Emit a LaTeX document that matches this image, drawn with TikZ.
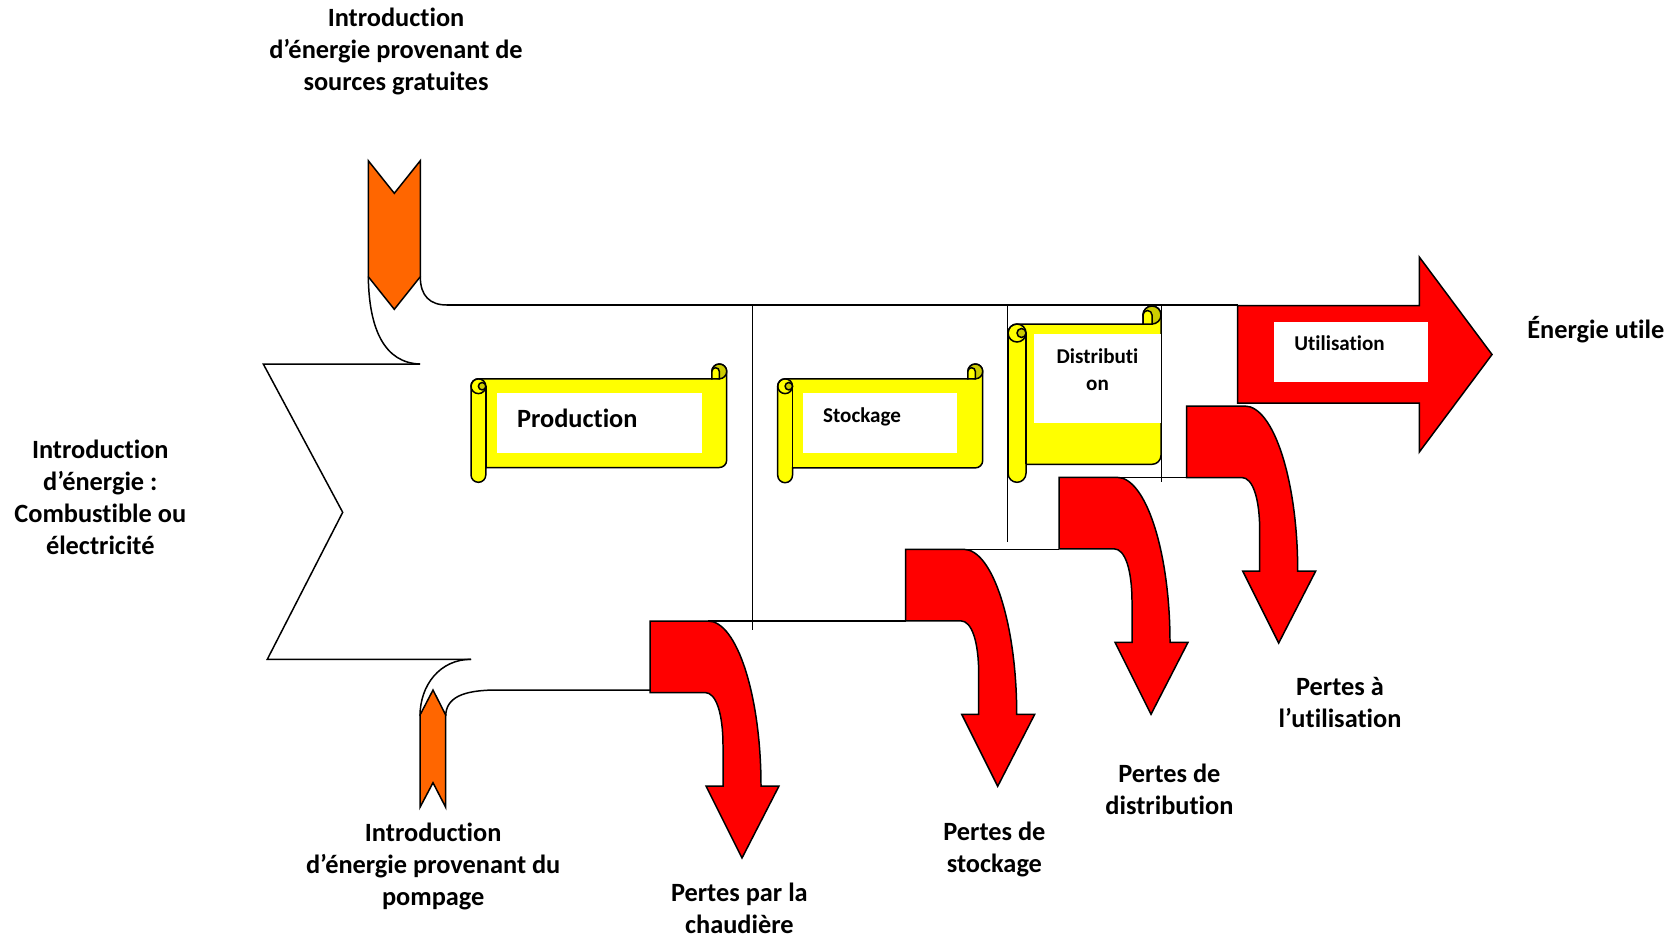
\documentclass[tikz,border=0pt]{standalone}
\usepackage{fontspec}
\setmainfont{Carlito}[Ligatures=NoCommon]
\definecolor{flame}{HTML}{FF6600}
\definecolor{lossred}{HTML}{FF0000}
\definecolor{scrollyel}{HTML}{FFFF00}
\definecolor{scrollshade}{HTML}{CCCC00}
\tikzset{
  outl/.style={line width=0.85pt},
  divline/.style={line width=0.6pt},
  lbl/.style={font=\bfseries\fontsize{15}{18.2}\selectfont, align=center, inner sep=0pt},
  boxlbl/.style={font=\bfseries\fontsize{12}{15.2}\selectfont, inner sep=0pt},
  loss/.style={outl, fill=lossred},
  inflow/.style={outl, fill=flame},
  scroll/.style={outl, fill=scrollyel},
}
\begin{document}
\begin{tikzpicture}[x=0.02cm, y=-0.02cm]
\useasboundingbox (0,0) rectangle (1673,938);

% dividers and main band
\draw[divline] (752.5,305) -- (752.5,630);
\draw[divline] (1007.7,305) -- (1007.7,541.7);
\draw[outl] (447,305) -- (1237.7,305);
\draw[outl] (420,364) -- (263.3,364) -- (342.7,512.3) -- (267.3,659.3) -- (471,659.3);
\draw[outl] (368.3,276.7) .. controls (369,330) and (385,363) .. (420,364);
\draw[outl] (420.3,276.7) .. controls (420.3,296) and (430,305) .. (447,305);
\draw[outl] (471,659.3) .. controls (440,659.3) and (420,685) .. (420,716);
\draw[outl] (445.7,716) .. controls (446,698) and (462,690) .. (497,690) -- (650,690);
\foreach \xa/\xb/\y in {708/905.7/621, 963.7/1059/549.3, 1117/1186.7/477.3}
{
    \draw[outl] (\xa,\y) -- (\xb,\y);
}

% losses
\foreach \x/\y in {650/621, 905.7/549.3, 1059/477.3, 1186.7/406}
{
    \filldraw[loss, shift={(\x,\y)}] (0,0) -- (58,0) .. controls (87,0) and (111,75) .. (111,165)
        -- (129,165) -- (92,237) -- (56,165) -- (73,165) -- (73,125)
        .. controls (73,92) and (66,71.5) .. (55,71.5) -- (0,71.5) -- cycle;
}

% free and pumped inputs
\filldraw[inflow] (368.3,160.7) -- (394.3,193.3) -- (420.3,160.7) -- (420.3,276.7) -- (394.3,309.3) -- (368.3,276.7) -- cycle;
\filldraw[inflow] (420,807.3) -- (433,782.7) -- (445.7,807.3) -- (445.7,715) -- (433,690) -- (420,715) -- cycle;

% useful energy
\filldraw[loss] (1237.7,305.5) -- (1419.3,305.5) -- (1419.3,257) -- (1492,354.5) -- (1419.3,452) -- (1419.3,403) -- (1237.7,403) -- cycle;
\fill[white] (1274,322.3) rectangle (1427.7,381.7);
\node[boxlbl, anchor=base west] (util) at (1294,350) {Utilisation};

% scrolls
\foreach \sx/\sy/\sw/\sh/\rl in {471/364/255.7/118.3/14.8, 777.7/364/205/118.7/14.8, 1008/306/153/176.3/18}
{
    \begin{scope}[shift={(\sx,\sy)}]
    \filldraw[scroll] (\rl/2,\rl) -- (\sw-\rl,\rl) -- (\sw-\rl,\rl/2) arc[start angle=180, end angle=360, radius=\rl/2]
        -- (\sw,\sh-1.5*\rl) arc[start angle=0, end angle=90, radius=\rl/2] -- (\rl,\sh-\rl) -- (\rl,\sh-\rl/2)
        arc[start angle=0, end angle=180, radius=\rl/2] -- (0,1.5*\rl) arc[start angle=180, end angle=270, radius=\rl/2] -- cycle;
    \filldraw[outl, fill=scrollshade] (\sw-\rl/2,\rl/2) circle[radius=\rl/2];
    \filldraw[scroll] (\sw-\rl,\rl) -- (\sw-\rl,\rl/2) arc[start angle=180, end angle=360, radius=\rl/4] -- (\sw-\rl/2,\rl) -- cycle;
    \draw[outl] (\rl/2,1.5*\rl) circle[radius=\rl/2];
    \filldraw[outl, fill=scrollshade] (0.75*\rl,1.5*\rl) circle[radius=\rl/4];
    \draw[outl] (\rl,1.5*\rl) -- (\rl,\sh-\rl);
    \end{scope}
}
\fill[white] (497.3,393.3) rectangle (701.7,452.7);
\fill[white] (803.3,393.3) rectangle (957.3,453.3);
\fill[white] (1034,334) rectangle (1162.3,422.7);
\node[lbl, anchor=base west] (prod) at (516.7,427.3) {Production};
\node[boxlbl, anchor=base west] (stock) at (822.7,422.3) {Stockage};
\node[boxlbl, align=center] (distr) at (1097.5,369.8) {Distributi\\on};
\draw[divline] (1161.7,305) -- (1161.7,481.7);

% labels
\node[lbl] (gratuit) at (396,51.2) {Introduction\\d’énergie provenant de\\sources gratuites};
\node[lbl] (combust) at (100.3,497) {Introduction\\d’énergie :\\Combustible ou\\électricité};
\node[lbl] (pompe) at (433.2,866.3) {Introduction\\d’énergie provenant du\\pompage};
\node[lbl] (pchaud) at (739.4,908.5) {Pertes par la\\chaudière};
\node[lbl] (pstock) at (994.4,849.8) {Pertes de\\stockage};
\node[lbl] (pdistr) at (1169.4,789.6) {Pertes de\\distribution};
\node[lbl] (putil) at (1340,702) {Pertes à\\l’utilisation};
\node[lbl, anchor=west] (utile) at (1527,329.7) {Énergie utile};

\end{tikzpicture}
\end{document}
